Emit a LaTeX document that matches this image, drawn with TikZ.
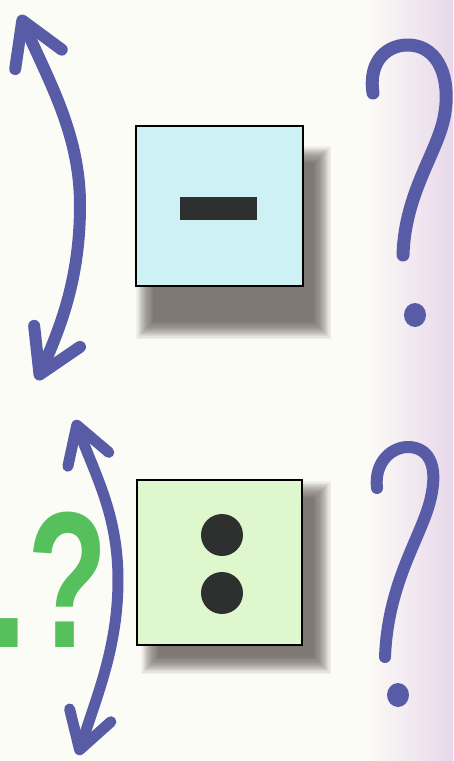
\documentclass[tikz,border=0pt]{standalone}
\usepackage{fontspec}
\usepackage{graphicx}
\usepackage{tikz}
\usetikzlibrary{arrows.meta,bending,calc,backgrounds}
\usepackage{xcolor}
\newfontfamily\signosfont{Liberation Sans}
\definecolor{fondo}{RGB}{252,252,247}
\definecolor{fondolila}{RGB}{232,216,234}
\definecolor{trazoazul}{RGB}{88,92,166}
\definecolor{interrverde}{RGB}{86,192,92}
\definecolor{cajaresta}{RGB}{206,241,245}
\definecolor{cajadivision}{RGB}{222,247,204}
\definecolor{sombra}{RGB}{72,64,58}
\definecolor{signo}{RGB}{46,48,48}
\newcommand{\sombracaja}[5]{%
  \foreach \k in {0,...,15}
    \fill[sombra, opacity=0.065]
      ($(#1.north west)+(#2+\k*1.1-8,#3+\k*1.1-8)$) rectangle
      ($(#1.south east)+(#4-\k*1.1+8,#5-\k*1.1+8)$);}

\begin{document}
\begin{tikzpicture}[x=1pt, y=-1pt,
  opcaja/.style={draw=black, line width=1.2pt, inner sep=0pt},
  flechadoble/.style={draw=trazoazul, line width=12pt, line cap=round, line join=round,
    arrows={Straight Barb[length=#1, width=1.2*#1, round]-Straight Barb[length=#1, width=1.2*#1, round]}},
  interr/.style={draw=trazoazul, line width=13pt, line cap=round, line join=round}]

\useasboundingbox (0,0) rectangle (453,761);
\begin{scope}[on background layer]
  \fill[fondo] (0,0) rectangle (453,761);
  \shade[left color=fondo, right color=fondolila] (365,0) rectangle (453,761);
\end{scope}

% cajas
\node[opcaja, fill=cajaresta, minimum width=167pt, minimum height=160pt] (resta) at (219.5,206) {};
\node[fill=signo, minimum width=77pt, minimum height=23pt, inner sep=0pt] (raya) at ($(resta)+(-1,2.5)$) {};

\node[opcaja, fill=cajadivision, minimum width=165pt, minimum height=165pt] (division) at (219.5,562.5) {};
\node[circle, fill=signo, minimum size=42pt, inner sep=0pt] (puntoA) at (222,535) {};
\node[circle, fill=signo, minimum size=42pt, inner sep=0pt] (puntoB) at (222,593) {};

\begin{scope}[on background layer]
  \sombracaja{resta}{9}{29}{19}{44}
  \sombracaja{division}{13}{10}{20}{20}
\end{scope}

\node[font=\signosfont\bfseries\fontsize{194}{194}\selectfont, text=interrverde,
      inner sep=0pt, anchor=base east] (dudaverde) at (108,647) {\scalebox{0.68}[1]{.?}};

% flechas
\coordinate (arribaA) at (20,15);
\coordinate (abajoA) at (37,380);
\coordinate (arribaB) at (75,420);
\coordinate (abajoB) at (78,755);
\draw[flechadoble=42pt] (arribaA) .. controls (45,75) and (80,130) .. (80,205)
  .. controls (80,280) and (60,330) .. (abajoA);
\draw[flechadoble=36pt, line width=11pt] (arribaB) .. controls (92,470) and (118,510) .. (118,580)
  .. controls (118,650) and (95,700) .. (abajoB);

% interrogaciones a mano
\draw[interr] (373,93) .. controls (368,60) and (388,44) .. (410,45)
  .. controls (440,47) and (450,80) .. (445,112)
  .. controls (440,150) and (405,190) .. (403,255);
\fill[trazoazul] (415,315) ellipse [x radius=11pt, y radius=12pt];
\draw[interr, line width=12pt] (377,488) .. controls (374,462) and (392,446) .. (410,447)
  .. controls (432,449) and (437,470) .. (431,497)
  .. controls (423,535) and (388,580) .. (385,657);
\fill[trazoazul] (398,695) ellipse [x radius=11pt, y radius=12pt];

\end{tikzpicture}
\end{document}
